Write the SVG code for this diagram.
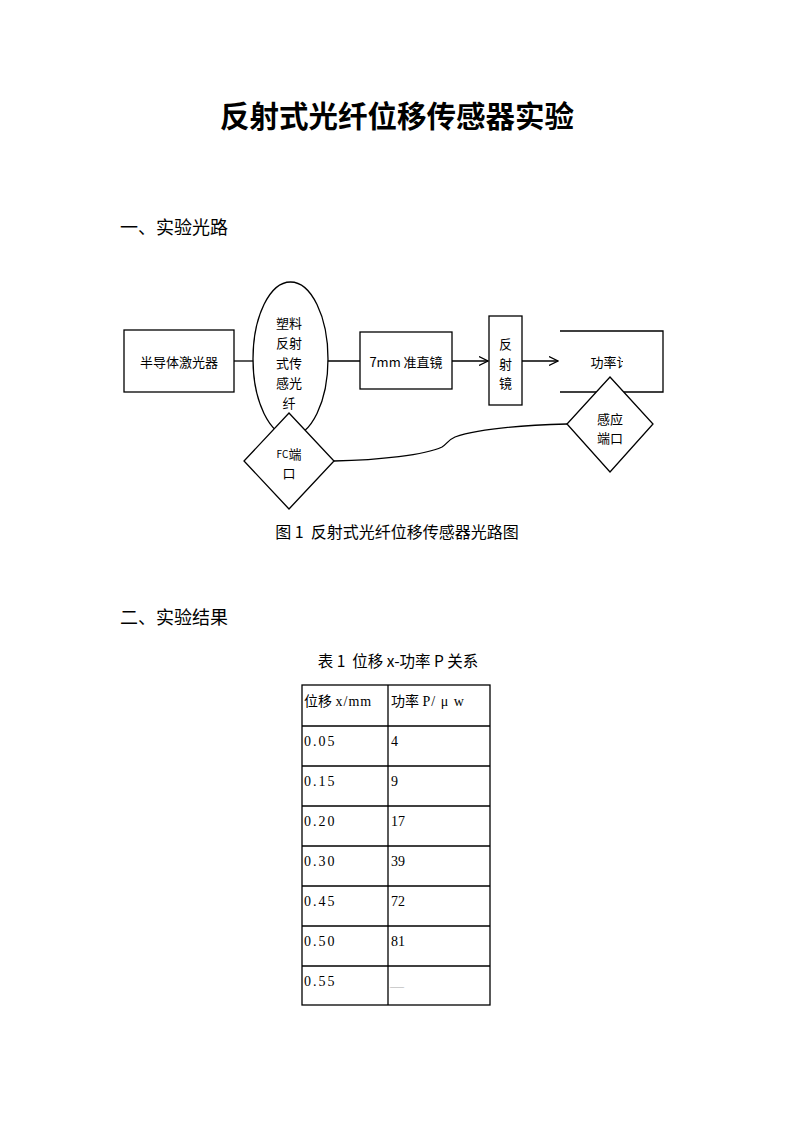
<svg xmlns="http://www.w3.org/2000/svg" width="793" height="1122" viewBox="0 0 793 1122">
<style>
.cjk{font-family:"Noto Sans CJK SC","Liberation Sans",sans-serif;fill:#000}
.lbl{font-family:"Noto Sans CJK SC","Liberation Sans",sans-serif;font-size:13px;fill:#000;text-anchor:middle;dominant-baseline:central}
.shape{fill:#fff;stroke:#000;stroke-width:1.3}
.line{fill:none;stroke:#000;stroke-width:1.3}
.cell{font-family:"Liberation Serif","Noto Sans CJK SC",serif;font-size:14px;fill:#000}
.grid{stroke:#000;stroke-width:1.3;fill:none}
</style>
<defs>
<marker id="arr" viewBox="0 0 10 10" refX="9.5" refY="5" markerWidth="10" markerHeight="10" markerUnits="userSpaceOnUse" orient="auto">
<path d="M0.5,0.5 L9.5,5 L0.5,9.5" fill="none" stroke="#000" stroke-width="1.2"/>
</marker>
<clipPath id="clipP"><rect x="560" y="330" width="63" height="62"/></clipPath>
</defs>
<rect width="793" height="1122" fill="#fff"/>

<text class="cjk" x="397" y="127" font-size="29.5" font-weight="bold" text-anchor="middle">反射式光纤位移传感器实验</text>
<text class="cjk" x="120" y="234" font-size="18">一、实验光路</text>

<g id="connectors">
<line class="line" x1="234" y1="361" x2="254" y2="361"/>
<line class="line" x1="327" y1="361" x2="360" y2="361"/>
<line class="line" x1="452" y1="361" x2="488" y2="361" marker-end="url(#arr)"/>
<line class="line" x1="522" y1="361" x2="558" y2="361" marker-end="url(#arr)"/>
<path class="line" d="M334,461 C380,460 425,455 442,447 C447,444 448,440 455,437 C480,428 530,425 567,424"/>
</g>

<g id="laser">
<rect class="shape" x="124" y="330" width="110" height="62"/>
<text class="lbl" x="179" y="361">半导体激光器</text>
</g>

<g id="fiber">
<ellipse class="shape" cx="290.5" cy="359" rx="37.5" ry="77"/>
<text class="lbl" x="289" y="322">塑料</text>
<text class="lbl" x="289" y="342">反射</text>
<text class="lbl" x="289" y="362">式传</text>
<text class="lbl" x="289" y="382">感光</text>
<text class="lbl" x="289" y="402">纤</text>
</g>

<g id="fc-port">
<polygon class="shape" points="289,413 334,461 289,509 244,461"/>
<text class="lbl" x="289" y="453" font-size="12.5"><tspan font-size="10">FC</tspan>端</text>
<text class="lbl" x="289" y="472">口</text>
</g>

<g id="collimator">
<rect class="shape" x="360" y="332" width="92" height="57"/>
<text class="lbl" x="406" y="361">7mm 准直镜</text>
</g>

<g id="mirror">
<rect class="shape" x="489" y="316" width="33" height="89"/>
<text class="lbl" x="505.5" y="343" font-size="14">反</text>
<text class="lbl" x="505.5" y="363" font-size="14">射</text>
<text class="lbl" x="505.5" y="382" font-size="14">镜</text>
</g>

<g id="power-meter">
<path class="line" d="M560,331 H663 V392 H560"/>
<text class="lbl" x="610" y="361" clip-path="url(#clipP)">功率计</text>
</g>

<g id="sensor-port">
<polygon class="shape" points="610,377 653,424 610,472 567,424"/>
<text class="lbl" x="610" y="418" font-size="12">感应</text>
<text class="lbl" x="610" y="437" font-size="12">端口</text>
</g>

<text class="cjk" x="397" y="538" font-size="16" text-anchor="middle" xml:space="preserve">图 1  反射式光纤位移传感器光路图</text>

<text class="cjk" x="120" y="624" font-size="18">二、实验结果</text>

<text class="cjk" x="398" y="667" font-size="15.5" text-anchor="middle" xml:space="preserve">表 1  位移 x-功率 P 关系</text>

<g id="table">
<rect class="grid" x="302" y="685" width="188" height="320"/>
<line class="grid" x1="388" y1="685" x2="388" y2="1005"/>
<line class="grid" x1="302" y1="726" x2="490" y2="726"/>
<line class="grid" x1="302" y1="766" x2="490" y2="766"/>
<line class="grid" x1="302" y1="806" x2="490" y2="806"/>
<line class="grid" x1="302" y1="846" x2="490" y2="846"/>
<line class="grid" x1="302" y1="886" x2="490" y2="886"/>
<line class="grid" x1="302" y1="926" x2="490" y2="926"/>
<line class="grid" x1="302" y1="966" x2="490" y2="966"/>
<text class="cell" x="304" y="706">位移 <tspan letter-spacing="1">x/mm</tspan></text>
<text class="cell" x="391" y="706">功率 <tspan letter-spacing="1">P/ μ w</tspan></text>
<text class="cell" x="304" y="746" letter-spacing="2">0.05</text>
<text class="cell" x="391" y="746">4</text>
<text class="cell" x="304" y="786" letter-spacing="2">0.15</text>
<text class="cell" x="391" y="786">9</text>
<text class="cell" x="304" y="826" letter-spacing="2">0.20</text>
<text class="cell" x="391" y="826">17</text>
<text class="cell" x="304" y="866" letter-spacing="2">0.30</text>
<text class="cell" x="391" y="866">39</text>
<text class="cell" x="304" y="906" letter-spacing="2">0.45</text>
<text class="cell" x="391" y="906">72</text>
<text class="cell" x="304" y="946" letter-spacing="2">0.50</text>
<text class="cell" x="391" y="946">81</text>
<text class="cell" x="304" y="986" letter-spacing="2">0.55</text>
<text class="cell" x="390" y="991" font-size="16" style="fill:#aaa">—</text>
</g>
</svg>
